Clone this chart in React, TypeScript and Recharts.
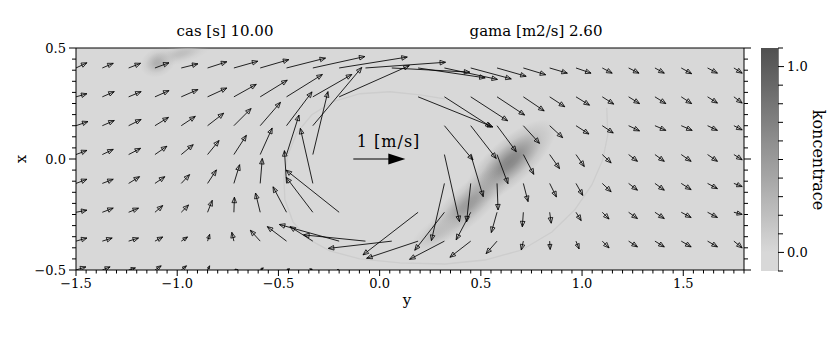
import React from 'react';
import { ScatterChart, Scatter, XAxis, YAxis, CartesianGrid } from 'recharts';

const FONT = '"DejaVu Serif", serif';

// grid of the velocity field: y runs across, x runs up
const colY = [-1.5, -1.37, -1.24, -1.11, -0.98, -0.85, -0.72, -0.59, -0.46, -0.33, -0.2, -0.07, 0.06, 0.19, 0.32, 0.45, 0.58, 0.71, 0.84, 0.97, 1.1, 1.23, 1.36, 1.49, 1.62, 1.75];
const rowX = [-0.5, -0.37, -0.24, -0.11, 0.02, 0.15, 0.28, 0.41];

// velocity [m/s] per row (bottom row first): u along y, v along x
const u0 = [0.19, 0.15, 0.13, 0.12, 0.1, 0.04, 0.08, 0.06, 0.06, -0.06, -0.04, 0, 0, 0, 0, 0, 0, 0, 0, 0, 0, 0, 0, 0, 0, 0];
const v0 = [0.06, 0.06, 0.04, 0.08, 0.08, 0.08, 0, 0.04, 0.02, 0.02, 0, 0, 0, 0, 0, 0, 0, 0, 0, 0, 0, 0, 0, 0, 0, 0];
const u1 = [0.21, 0.19, 0.19, 0.15, 0.12, 0.04, -0.04, -0.19, -0.37, -0.44, -1.15, -1.19, -1.22, -0.99, -0.67, -0.4, -0.21, -0.04, 0.01, 0.06, 0.13, 0.17, 0.18, 0.19, 0.19, 0.16];
const v1 = [0.06, 0.06, 0.06, 0.08, 0.08, 0.13, 0.17, 0.21, 0.28, 0.28, 0.32, 0.12, -0.14, -0.33, -0.35, -0.31, -0.24, -0.17, -0.16, -0.15, -0.13, -0.11, -0.11, -0.11, -0.11, -0.13];
const u2 = [0.21, 0.21, 0.19, 0.15, 0.14, 0.09, 0.01, -0.09, -0.26, -0.51, -1.02, 0, 0, -1.06, -0.57, -0.28, -0.11, -0.02, 0.03, 0.1, 0.13, 0.17, 0.18, 0.19, 0.19, 0.16];
const v2 = [0.04, 0.08, 0.08, 0.13, 0.14, 0.23, 0.29, 0.37, 0.49, 0.67, 0.81, 0, 0, -0.82, -0.73, -0.53, -0.39, -0.28, -0.21, -0.16, -0.13, -0.12, -0.12, -0.1, -0.1, -0.04];
const u3 = [0.21, 0.21, 0.21, 0.19, 0.16, 0.17, 0.11, 0.04, -0.04, -0.24, 0, 0, 0, 0, -0.25, -0.08, 0.02, 0.09, 0.13, 0.13, 0.17, 0.17, 0.18, 0.19, 0.19, 0.16];
const v3 = [0.08, 0.08, 0.13, 0.13, 0.17, 0.26, 0.36, 0.48, 0.63, 1.06, 0, 0, 0, 0, -1.1, -0.74, -0.51, -0.35, -0.26, -0.23, -0.16, -0.13, -0.13, -0.12, -0.1, -0.06];
const u4 = [0.21, 0.21, 0.23, 0.23, 0.23, 0.22, 0.24, 0.23, 0.24, 0.29, 0, 0, 0, 0, 0.29, 0.24, 0.21, 0.2, 0.19, 0.16, 0.17, 0.17, 0.18, 0.19, 0.19, 0.16];
const v4 = [0.08, 0.1, 0.12, 0.16, 0.19, 0.27, 0.37, 0.51, 0.76, 1.21, 0, 0, 0, 0, -1.29, -0.81, -0.56, -0.38, -0.27, -0.23, -0.16, -0.13, -0.13, -0.13, -0.13, -0.1];
const u5 = [0.23, 0.23, 0.24, 0.26, 0.27, 0.31, 0.33, 0.39, 0.49, 0.94, 0, 0, 0, 0, 0.55, 0.49, 0.37, 0.31, 0.25, 0.25, 0.21, 0.21, 0.21, 0.21, 0.19, 0.16];
const v5 = [0.08, 0.1, 0.12, 0.16, 0.18, 0.24, 0.33, 0.45, 0.65, 1.12, 0, 0, 0, 0, -0.66, -0.63, -0.5, -0.34, -0.23, -0.16, -0.14, -0.1, -0.09, -0.09, -0.09, -0.08];
const u6 = [0.21, 0.23, 0.24, 0.27, 0.32, 0.37, 0.43, 0.52, 0.69, 0.75, 1.35, 0, 0, 1.44, 0.9, 0.71, 0.53, 0.4, 0.29, 0.26, 0.22, 0.21, 0.21, 0.2, 0.19, 0.16];
const v6 = [0.06, 0.1, 0.1, 0.12, 0.14, 0.17, 0.24, 0.32, 0.43, 0.43, 0.6, 0, 0, -0.58, -0.58, -0.46, -0.35, -0.27, -0.19, -0.16, -0.14, -0.13, -0.13, -0.13, -0.12, -0.12];
const u7 = [0.21, 0.21, 0.23, 0.27, 0.32, 0.37, 0.46, 0.55, 0.75, 1.0, 1.31, 1.54, 1.5, 1.29, 1.02, 0.78, 0.56, 0.43, 0.34, 0.29, 0.19, 0.2, 0.18, 0.2, 0.19, 0.16];
const v7 = [0.1, 0.09, 0.09, 0.1, 0.08, 0.12, 0.13, 0.16, 0.19, 0.22, 0.21, 0.11, -0.08, -0.19, -0.22, -0.21, -0.16, -0.13, -0.1, -0.1, -0.1, -0.1, -0.1, -0.11, -0.1, -0.1];

// concentration patches: centre, peak value, half length / half width (y units), tilt [deg]
const blobY = [0.643, 0.436, 0.288, -1.095, -0.98];
const blobX = [-0.013, -0.207, -0.329, 0.435, 0.475];
const blobPeak = [0.66, 0.5, 0.22, 0.34, 0.2];
const blobLen = [0.29, 0.27, 0.17, 0.09, 0.15];
const blobWid = [0.11, 0.095, 0.065, 0.07, 0.05];
const blobTilt = [42, 42, 35, 25, 15];

// faint front of the spreading ring
const ringY = [1.122, 1.127, 1.102, 1.048, 0.964, 0.851, 0.702, 0.52, 0.322, 0.1, -0.098, -0.246, -0.354, -0.428, -0.468, -0.473, -0.453, -0.409, -0.335, -0.231, -0.098, 0.051, 0.199, 0.322];
const ringX = [0.231, 0.109, -0.004, -0.117, -0.229, -0.329, -0.41, -0.455, -0.473, -0.468, -0.45, -0.414, -0.36, -0.283, -0.184, -0.085, 0.019, 0.118, 0.199, 0.258, 0.294, 0.303, 0.289, 0.271];

const majorY = [-1.5, -1, -0.5, 0, 0.5, 1, 1.5];
const majorX = [-0.5, 0, 0.5];
const majorC = [0, 1];

const uRows = [u0, u1, u2, u3, u4, u5, u6, u7];
const vRows = [v0, v1, v2, v3, v4, v5, v6, v7];

const arrows = rowX.flatMap((xc, j) =>
  colY.map((yc, k) => ({ yc, xc, u: uRows[j][k], v: vRows[j][k] }))
);
const blobs = blobY.map((yc, i) => ({
  id: i, yc, xc: blobX[i], c: blobPeak[i], len: blobLen[i], wid: blobWid[i], tilt: blobTilt[i],
}));
const ring = ringY.map((yc, i) => ({ yc, xc: ringX[i] }));
const legend = [{ yc: -0.13, xc: 0.0, speed: 1 }];
const colorbarTop = [{ a: 0, b: 1.1 }];

const yTicks = Array.from({ length: 67 }, (_, i) => +(-1.5 + i * 0.05).toFixed(2));
const xTicks = Array.from({ length: 21 }, (_, i) => +(-0.5 + i * 0.05).toFixed(2));
const cTicks = Array.from({ length: 13 }, (_, i) => +(-0.1 + i * 0.1).toFixed(1));

const PLOT_W = 668;
const PX_PER_Y = PLOT_W / 3.3;
const ARROW_PX = 52; // screen length of 1 m/s
const CB_W = 17;
const CB_H = 223;

const grayOf = (c: number) => {
  const g = Math.round(Math.max(40, Math.min(218, 216 - 124 * c)));
  return `rgb(${g},${g},${g})`;
};

const fmt = (v: number) => (Math.abs(v) < 1e-9 ? '0.0' : v < 0 ? '\u2212' + Math.abs(v).toFixed(1) : v.toFixed(1));
const isIn = (list: number[], v: number) => list.some((m) => Math.abs(m - v) < 1e-6);

const makeTick = (side: string, majors: number[], labelled: boolean, big: number, small: number) => (props: any) => {
  const { x, y, payload } = props;
  const v = payload.value;
  const major = isIn(majors, v);
  const L = major ? big : small;
  const txt = labelled && major ? fmt(v) : null;
  if (side === 'bottom') {
    return (
      <g>
        <line x1={x} y1={y} x2={x} y2={y + L} stroke="#000" />
        {txt && <text x={x} y={y + 17.5} textAnchor="middle" fontSize={13} fontFamily={FONT} fill="#000">{txt}</text>}
      </g>
    );
  }
  if (side === 'top') return <line x1={x} y1={y} x2={x} y2={y - L} stroke="#000" />;
  if (side === 'left') {
    return (
      <g>
        <line x1={x} y1={y} x2={x - L} y2={y} stroke="#000" />
        {txt && <text x={x - L - 3} y={y + 4.7} textAnchor="end" fontSize={13} fontFamily={FONT} fill="#000">{txt}</text>}
      </g>
    );
  }
  return (
    <g>
      <line x1={x} y1={y} x2={x + L} y2={y} stroke="#000" />
      {txt && <text x={x + 9} y={y + 4.7} textAnchor="start" fontSize={13} fontFamily={FONT} fill="#000">{txt}</text>}
    </g>
  );
};

function ArrowShape(props: any) {
  const { cx, cy, payload } = props;
  const dx = payload.u * ARROW_PX;
  const dy = -payload.v * ARROW_PX;
  const len = Math.hypot(dx, dy);
  if (len < 0.5) return <g />;
  const ux = dx / len;
  const uy = dy / len;
  const h = Math.min(5.5, len * 0.6);
  const w = h * 0.42;
  const tx = cx + dx;
  const ty = cy + dy;
  const bx = tx - ux * h;
  const by = ty - uy * h;
  return (
    <g>
      <line x1={cx} y1={cy} x2={tx} y2={ty} stroke="#000" strokeWidth={0.85} />
      <polygon
        points={`${tx},${ty} ${bx - uy * w},${by + ux * w} ${bx + uy * w},${by - ux * w}`}
        fill="none"
        stroke="#000"
        strokeWidth={0.8}
      />
    </g>
  );
}

function BlobShape(props: any) {
  const { cx, cy, payload } = props;
  const id = `blob${payload.id}`;
  const col = grayOf(payload.c);
  return (
    <g>
      <defs>
        <radialGradient id={id}>
          <stop offset="0" stopColor={col} stopOpacity={1} />
          <stop offset="0.2" stopColor={col} stopOpacity={0.9} />
          <stop offset="0.45" stopColor={col} stopOpacity={0.55} />
          <stop offset="0.7" stopColor={col} stopOpacity={0.2} />
          <stop offset="1" stopColor={col} stopOpacity={0} />
        </radialGradient>
      </defs>
      <ellipse
        cx={cx}
        cy={cy}
        rx={payload.len * PX_PER_Y}
        ry={payload.wid * PX_PER_Y}
        transform={`rotate(${-payload.tilt} ${cx} ${cy})`}
        fill={`url(#${id})`}
      />
    </g>
  );
}

function LegendShape(props: any) {
  const { cx, cy, payload } = props;
  const L = payload.speed * ARROW_PX;
  return (
    <g>
      <line x1={cx} y1={cy} x2={cx + L - 14} y2={cy} stroke="#000" strokeWidth={1.2} />
      <polygon points={`${cx + L},${cy} ${cx + L - 17},${cy - 5.5} ${cx + L - 17},${cy + 5.5}`} fill="#000" />
      <text x={cx + 3.5} y={cy - 12.5} fontSize={16} letterSpacing={1} fontFamily={FONT} fill="#000">1 [m/s]</text>
    </g>
  );
}

function ColorbarShape(props: any) {
  const { cx, cy } = props;
  const stops = cTicks.map((c) => ({ off: (c + 0.1) / 1.2, col: grayOf(Math.max(c, 0)) }));
  return (
    <g>
      <defs>
        <linearGradient id="cbGrad" x1="0" y1="1" x2="0" y2="0">
          {stops.map((s, i) => (
            <stop key={i} offset={s.off} stopColor={s.col} />
          ))}
        </linearGradient>
      </defs>
      <rect x={cx} y={cy} width={CB_W} height={CB_H} fill="url(#cbGrad)" />
    </g>
  );
}

const hiddenDot = () => <g />;

export default function App() {
  return (
    <div style={{ position: 'absolute', left: 0, top: 0, width: 840, height: 350, background: '#fff' }}>
      <div style={{ position: 'absolute', left: 0, top: 0 }}>
        <ScatterChart width={840} height={350} margin={{ top: 38, right: 86, bottom: 50, left: 36 }}>
          <CartesianGrid horizontal={false} vertical={false} fill={grayOf(0)} stroke="none" />
          <XAxis
            type="number" dataKey="yc" domain={[-1.5, 1.8]} ticks={yTicks} interval={0}
            tickSize={0} tickMargin={0} tickLine={false} tick={makeTick('bottom', majorY, true, 6, 3.5)}
            axisLine={{ stroke: '#000' }} height={30} allowDataOverflow
          />
          <XAxis
            xAxisId="top" orientation="top" type="number" domain={[-1.5, 1.8]} ticks={yTicks} interval={0}
            tickSize={0} tickMargin={0} tickLine={false} tick={makeTick('top', majorY, false, 6, 3.5)}
            axisLine={{ stroke: '#000' }} height={10} allowDataOverflow
          />
          <YAxis
            type="number" dataKey="xc" domain={[-0.5, 0.5]} ticks={xTicks} interval={0}
            tickSize={0} tickMargin={0} tickLine={false} tick={makeTick('left', majorX, true, 7, 4)}
            axisLine={{ stroke: '#000' }} width={40} allowDataOverflow
          />
          <YAxis
            yAxisId="right" orientation="right" type="number" domain={[-0.5, 0.5]} ticks={xTicks} interval={0}
            tickSize={0} tickMargin={0} tickLine={false} tick={makeTick('right', majorX, false, 7, 4)}
            axisLine={{ stroke: '#000' }} width={10} allowDataOverflow
          />
          <Scatter data={blobs} shape={BlobShape} isAnimationActive={false} />
          <Scatter
            data={ring} shape={hiddenDot} line={{ stroke: '#cdcdcd', strokeWidth: 1.3 }}
            lineType="joint" isAnimationActive={false}
          />
          <Scatter data={arrows} shape={ArrowShape} isAnimationActive={false} />
          <Scatter data={legend} shape={LegendShape} isAnimationActive={false} />
        </ScatterChart>
      </div>
      <div style={{ position: 'absolute', left: 0, top: 0 }}>
        <ScatterChart width={840} height={350} margin={{ top: 48, right: 22, bottom: 79, left: 761 }}>
          <XAxis type="number" dataKey="a" domain={[0, 1]} hide />
          <YAxis
            type="number" dataKey="b" orientation="right" domain={[-0.1, 1.1]} ticks={cTicks} interval={0}
            tickSize={0} tickMargin={0} tickLine={false} tick={makeTick('right', majorC, true, 6, 5)}
            axisLine={{ stroke: '#000' }} width={40}
          />
          <Scatter data={colorbarTop} shape={ColorbarShape} isAnimationActive={false} />
        </ScatterChart>
      </div>
      <svg width={840} height={350} style={{ position: 'absolute', left: 0, top: 0, pointerEvents: 'none' }}>
        <g fontFamily={FONT} fill="#000">
          <text x={225} y={36} fontSize={15} textAnchor="middle">cas [s] 10.00</text>
          <text x={536} y={36} fontSize={15} textAnchor="middle">gama [m2/s] 2.60</text>
          <text x={407} y={305} fontSize={15} textAnchor="middle">y</text>
          <text x={26} y={159} fontSize={15} textAnchor="middle" transform="rotate(-90 26 159)">x</text>
          <text x={813} y={160} fontSize={16} textAnchor="middle" transform="rotate(90 813 160)">koncentrace</text>
        </g>
      </svg>
    </div>
  );
}
